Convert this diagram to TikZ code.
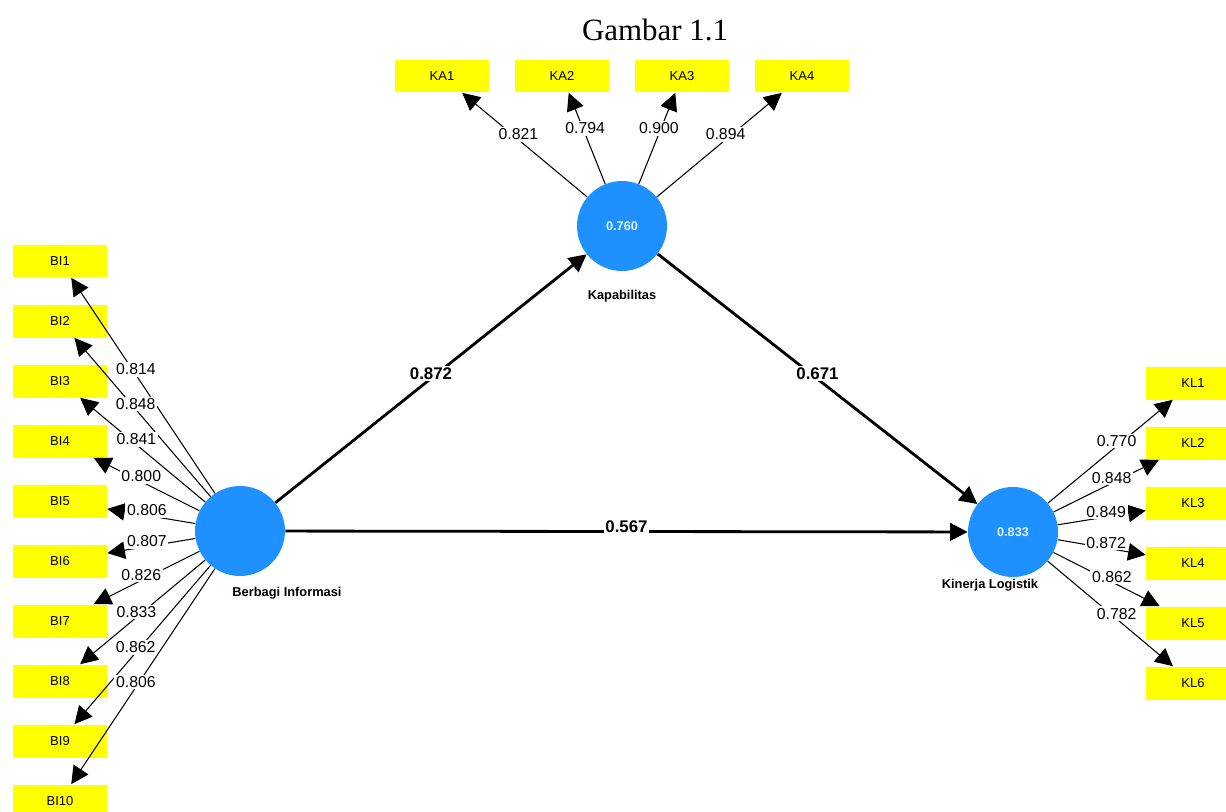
\documentclass[tikz,border=0pt]{standalone}
\usepackage{fontspec}
\setmainfont{Liberation Serif}
\setsansfont{Liberation Sans}
\usepackage{tikz}
\usetikzlibrary{arrows.meta,positioning}
\definecolor{plsblue}{RGB}{30,144,255}
\definecolor{plsyellow}{RGB}{255,255,0}
\definecolor{valuetext}{RGB}{225,245,255}
\tikzset{
  every node/.style={
    font=\sffamily\fontsize{7.4}{8}\selectfont
  },
  indicator/.style={
    shape=rectangle,
    fill=plsyellow,
    minimum width=1.88cm,
    minimum height=0.66cm,
    inner sep=0pt
  },
  construct/.style={
    shape=circle,
    fill=plsblue,
    minimum size=1.8cm,
    inner sep=0pt,
    text=valuetext,
    font=\sffamily\bfseries\fontsize{7.2}{8}\selectfont
  },
  construct name/.style={
    font=\sffamily\bfseries\fontsize{7.3}{8}\selectfont
  },
  loading/.style={
    draw,
    line width=0.6pt,
    -{Triangle[length=10pt,width=10pt]}
  },
  loading value/.style={
    pos=0.55,
    yshift=3pt,
    fill=white,
    inner sep=1pt,
    font=\sffamily\fontsize{9}{10}\selectfont
  },
  structural/.style={
    draw,
    line width=1.6pt,
    -{Triangle[length=10pt,width=10pt]}
  },
  coefficient/.style={
    midway,
    yshift=3pt,
    fill=white,
    inner sep=1pt,
    font=\sffamily\bfseries\fontsize{9.6}{11}\selectfont
  }
}

\begin{document}
\begin{tikzpicture}[x=0.02cm,y=-0.02cm]
  \useasboundingbox (0,0) rectangle (1226,811);
  \node [font=\rmfamily\fontsize{17.6}{20}\selectfont] (title) at (655,30) {Gambar 1.1};

  % latent variables
  \node [construct] (bi) at (240,531) {};
  \node [construct] (ka) at (622,226) {0.760};
  \node [construct] (kl) at (1013,532) {0.833};
  \node [construct name, below=0.1cm of bi, xshift=0.94cm] (bi-name) {Berbagi Informasi};
  \node [construct name, below=0.26cm of ka] (ka-name) {Kapabilitas};
  \node [construct name, below=-0.08cm of kl, xshift=-0.46cm] (kl-name) {Kinerja Logistik};

  % indicators
  \foreach \i in {1,...,10}
    \node [indicator] (bi\i) at (60,201+60*\i) {BI\i};
  \foreach \i in {1,...,4}
    \node [indicator] (ka\i) at (322+120*\i,76) {KA\i};
  \foreach \i in {1,...,6}
    \node [indicator] (kl\i) at (1193,323+60*\i) {KL\i};

  % outer loadings
  \foreach \i in {1,...,10}
    \draw [loading] (bi) -- (bi\i);
  \foreach \i in {1,...,4}
    \draw [loading] (ka) -- (ka\i);
  \foreach \i in {1,...,6}
    \draw [loading] (kl) -- (kl\i);
  \foreach \i/\v in {1/0.814,2/0.848,3/0.841,4/0.800,5/0.806,6/0.807,7/0.826,8/0.833,9/0.862,10/0.806}
    \path (bi) -- node [loading value] {\v} (bi\i);
  \foreach \i/\v in {1/0.821,2/0.794,3/0.900,4/0.894}
    \path (ka) -- node [loading value] {\v} (ka\i);
  \foreach \i/\v in {1/0.770,2/0.848,3/0.849,4/0.872,5/0.862,6/0.782}
    \path (kl) -- node [loading value] {\v} (kl\i);

  % path coefficients
  \draw [structural] (bi) -- node [coefficient] {0.872} (ka);
  \draw [structural] (ka) -- node [coefficient] {0.671} (kl);
  \draw [structural] (bi) -- node [coefficient] {0.567} (kl);
\end{tikzpicture}
\end{document}
